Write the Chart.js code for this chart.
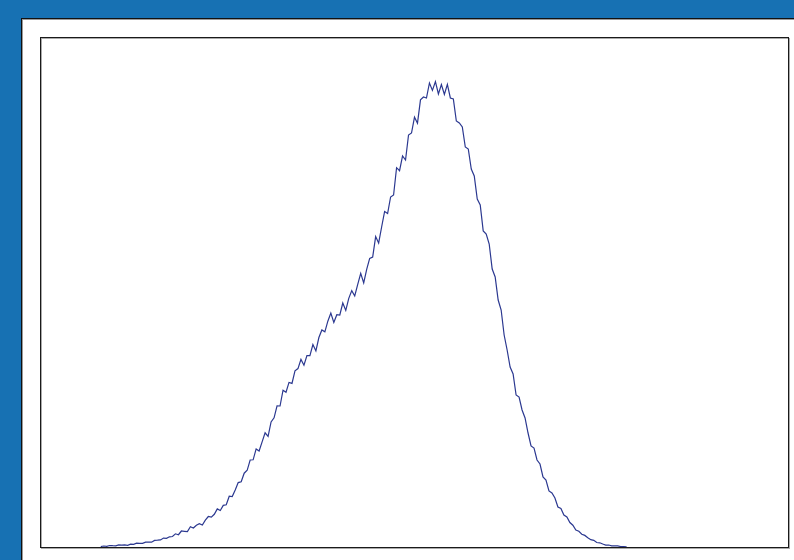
<!DOCTYPE html>
<html>
<head>
<meta charset="utf-8">
<script src="https://cdn.jsdelivr.net/npm/chart.js@4.4.1/dist/chart.umd.min.js"></script>
<style>
  body { margin: 0; background: #1771b3; width: 794px; height: 560px; overflow: hidden; position: relative; }
  #panel { position: absolute; left: 21px; top: 18px; right: 0; bottom: 0; background: #fff;
           border-left: 1px solid #111; border-top: 1px solid #111; box-shadow: inset 1px 1px 0 #999; }
  #myChart { position: absolute; left: 0; top: 0; }
</style>
</head>
<body>
<div id="panel"></div>
<canvas id="myChart" width="794" height="560"></canvas>
<script>
// histogram bins: first bin index, then one count per bin
const firstBin = 20;
const counts = [
  5, 10, 7, 15, 13, 12, 21, 18, 21, 17,
  28, 27, 39, 37, 36, 49, 50, 48, 66, 68,
  71, 89, 86, 102, 105, 132, 123, 160, 157, 154,
  202, 190, 218, 233, 220, 268, 305, 298, 327, 381,
  365, 416, 422, 508, 504, 570, 644, 653, 738, 767,
  870, 872, 981, 960, 1051, 1142, 1106, 1250, 1292, 1411,
  1410, 1568, 1548, 1646, 1636, 1762, 1784, 1876, 1818, 1915,
  1914, 2024, 1960, 2095, 2170, 2152, 2258, 2340, 2246, 2323,
  2320, 2440, 2366, 2486, 2564, 2510, 2626, 2737, 2640, 2776,
  2886, 2900, 3104, 3040, 3200, 3355, 3335, 3500, 3520, 3793,
  3763, 3910, 3870, 4120, 4140, 4298, 4238, 4472, 4500, 4490,
  4640, 4566, 4654, 4530, 4625, 4525, 4626, 4490, 4480, 4260,
  4240, 4200, 4000, 3980, 3780, 3710, 3480, 3420, 3160, 3130,
  3030, 2780, 2700, 2470, 2370, 2120, 1970, 1800, 1730, 1520,
  1500, 1370, 1290, 1140, 1010, 990, 870, 830, 700, 670,
  560, 540, 490, 400, 385, 320, 300, 245, 218, 169,
  157, 128, 116, 93, 73, 67, 45, 42, 30, 19,
  20, 12, 11, 11, 5, 4, 2
];
const xMax = 250;
const yMax = 5090;

const points = counts.map((c, i) => ({ x: firstBin + i, y: c }));

// frame round the plot area: grey shadow offset by one pixel, then dark line
const frame = {
  id: 'frame',
  afterDraw(chart) {
    const a = chart.chartArea;
    const ctx = chart.ctx;
    ctx.save();
    ctx.lineWidth = 1;
    ctx.strokeStyle = '#aaa';
    ctx.strokeRect(a.left + 0.5, a.top + 0.5, a.right - a.left + 1, a.bottom - a.top + 1);
    ctx.strokeStyle = '#1a1a1a';
    ctx.strokeRect(a.left - 0.5, a.top - 0.5, a.right - a.left + 1, a.bottom - a.top + 1);
    ctx.restore();
  }
};

new Chart(document.getElementById('myChart').getContext('2d'), {
  type: 'line',
  data: {
    datasets: [{
      data: points,
      borderColor: '#2b3890',
      borderWidth: 1.2,
      pointRadius: 0,
      tension: 0,
      fill: false
    }]
  },
  options: {
    responsive: false,
    animation: false,
    layout: { padding: { left: 41, right: 6, top: 38, bottom: 13 } },
    plugins: { legend: { display: false }, tooltip: { enabled: false } },
    scales: {
      x: { type: 'linear', min: 0, max: xMax, display: false },
      y: { min: 0, max: yMax, display: false }
    }
  },
  plugins: [frame]
});
</script>
</body>
</html>
